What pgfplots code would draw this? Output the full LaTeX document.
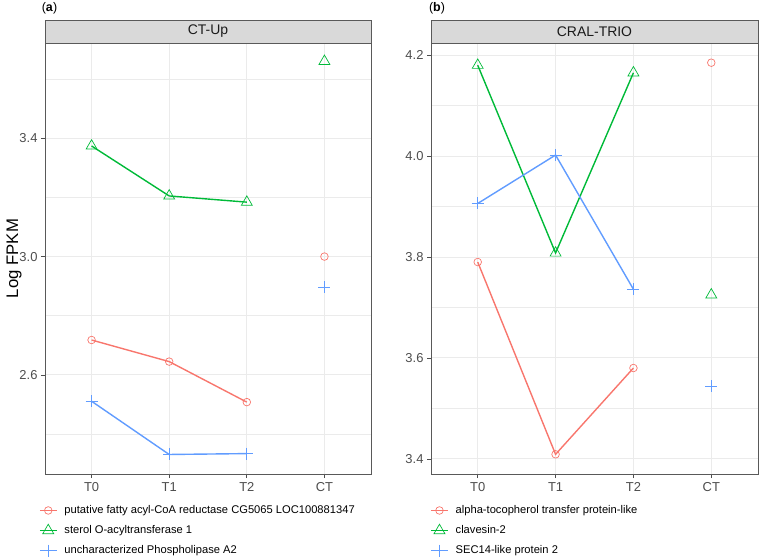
\documentclass[border=0pt]{standalone}
\usepackage{pgfplots}
\pgfplotsset{compat=1.18}
\usepackage{fontspec}
\setmainfont{Liberation Sans}
\definecolor{cred}{HTML}{F8766D}
\definecolor{cgreen}{HTML}{00BA38}
\definecolor{cblue}{HTML}{619CFF}
\definecolor{gridc}{HTML}{EBEBEB}
\definecolor{borderc}{HTML}{595959}
\definecolor{stripc}{HTML}{D9D9D9}
\definecolor{tickc}{HTML}{4D4D4D}
\definecolor{stript}{HTML}{1A1A1A}

\pgfplotsset{
  panel/.style={
    scale only axis,
    anchor=south west,
    xmin=-0.6, xmax=3.6,
    xtick={0,1,2,3},
    xticklabels={T0,T1,T2,CT},
    xmajorgrids, ymajorgrids, yminorgrids,
    major grid style={draw=gridc, line width=0.9bp},
    minor grid style={draw=gridc, line width=0.6bp},
    minor tick length=0pt,
    tick align=outside,
    major tick length=4bp,
    xtick pos=left, ytick pos=left,
    tick style={draw=tickc, line width=0.7bp},
    axis line style={draw=borderc, line width=0.8bp},
    ticklabel style={font=\fontsize{13}{15}\selectfont, text=tickc},
    xticklabel style={yshift=-1bp},
    /pgf/number format/assume math mode=true,
    yticklabel style={/pgf/number format/.cd, fixed, fixed zerofill, precision=1},
    clip=false,
    legend cell align=left,
    legend image code/.code={\draw[mark repeat=2,mark phase=2] plot coordinates {(0bp,0bp) (8.5bp,0bp) (17bp,0bp)};},
    legend style={draw=none, fill=none, anchor=north west,
      font=\fontsize{11.2}{13}\selectfont, row sep=7.5bp,
      nodes={inner sep=1bp, text height=8bp, text depth=2.5bp},
      /tikz/every odd column/.append style={column sep=6bp}},
  },
  cr/.style={color=cred, line width=1.4bp, mark=o, mark size=3.8bp, mark options={line width=0.7bp, solid}},
  cg/.style={color=cgreen, line width=1.4bp, mark=triangle, mark size=6.3bp, mark options={line width=0.7bp, solid}},
  cb/.style={color=cblue, line width=1.4bp, mark=+, mark size=6bp, mark options={line width=0.7bp, solid}},
}

\begin{document}
\begin{tikzpicture}
\path[use as bounding box] (0,0) rectangle (760bp,-558bp);

% Panel (a)
\begin{axis}[panel,
  at={(45bp,-474bp)}, width=326bp, height=431bp,
  ymin=2.265, ymax=3.722,
  ytick={2.6,3.0,3.4},
  minor ytick={2.4,2.8,3.2,3.6},
  ylabel={Log FPKM},
  ylabel style={at={(axis description cs:-0.095,0.5)}, anchor=center, font=\fontsize{16.8}{18}\selectfont},
  legend style={at={(axis description cs:-0.028,-0.065)}},
]
\addplot[cr] coordinates {(0,2.718) (1,2.645) (2,2.508)};
\addlegendentry{putative fatty acyl-CoA reductase CG5065 LOC100881347}
\addplot[cg] coordinates {(0,3.374) (1,3.205) (2,3.184)};
\addlegendentry{sterol O-acyltransferase 1}
\addplot[cb] coordinates {(0,2.511) (1,2.331) (2,2.334)};
\addlegendentry{uncharacterized Phospholipase A2}
\addplot[cr, only marks, forget plot] coordinates {(3,3.000)};
\addplot[cg, only marks, forget plot] coordinates {(3,3.660)};
\addplot[cb, only marks, forget plot] coordinates {(3,2.896)};
\end{axis}

% Panel (b)
\begin{axis}[panel,
  at={(431bp,-474bp)}, width=327bp, height=431bp,
  ymin=3.370, ymax=4.224,
  ytick={3.4,3.6,3.8,4.0,4.2},
  minor ytick={3.5,3.7,3.9,4.1},
  legend style={at={(axis description cs:-0.012,-0.065)}},
]
\addplot[cr] coordinates {(0,3.790) (1,3.409) (2,3.580)};
\addlegendentry{alpha-tocopherol transfer protein-like}
\addplot[cg] coordinates {(0,4.180) (1,3.808) (2,4.165)};
\addlegendentry{clavesin-2}
\addplot[cb] coordinates {(0,3.906) (1,4.002) (2,3.736)};
\addlegendentry{SEC14-like protein 2}
\addplot[cr, only marks, forget plot] coordinates {(3,4.185)};
\addplot[cg, only marks, forget plot] coordinates {(3,3.725)};
\addplot[cb, only marks, forget plot] coordinates {(3,3.544)};
\end{axis}

% strips
\draw[fill=stripc, draw=borderc, line width=0.8bp] (45bp,-20bp) rectangle (371bp,-43bp);
\node[font=\fontsize{14}{16}\selectfont, text=stript] at (208bp,-31.5bp) {CT-Up};
\draw[fill=stripc, draw=borderc, line width=0.8bp] (431bp,-20bp) rectangle (758bp,-43bp);
\node[font=\fontsize{14}{16}\selectfont, text=stript] at (594.5bp,-31.5bp) {CRAL-TRIO};

% panel tags
\node[font=\fontsize{12.5}{14}\selectfont] at (49.5bp,-8bp) {(\textbf{a})};
\node[font=\fontsize{12.5}{14}\selectfont] at (437bp,-8bp) {(\textbf{b})};
\end{tikzpicture}
\end{document}
